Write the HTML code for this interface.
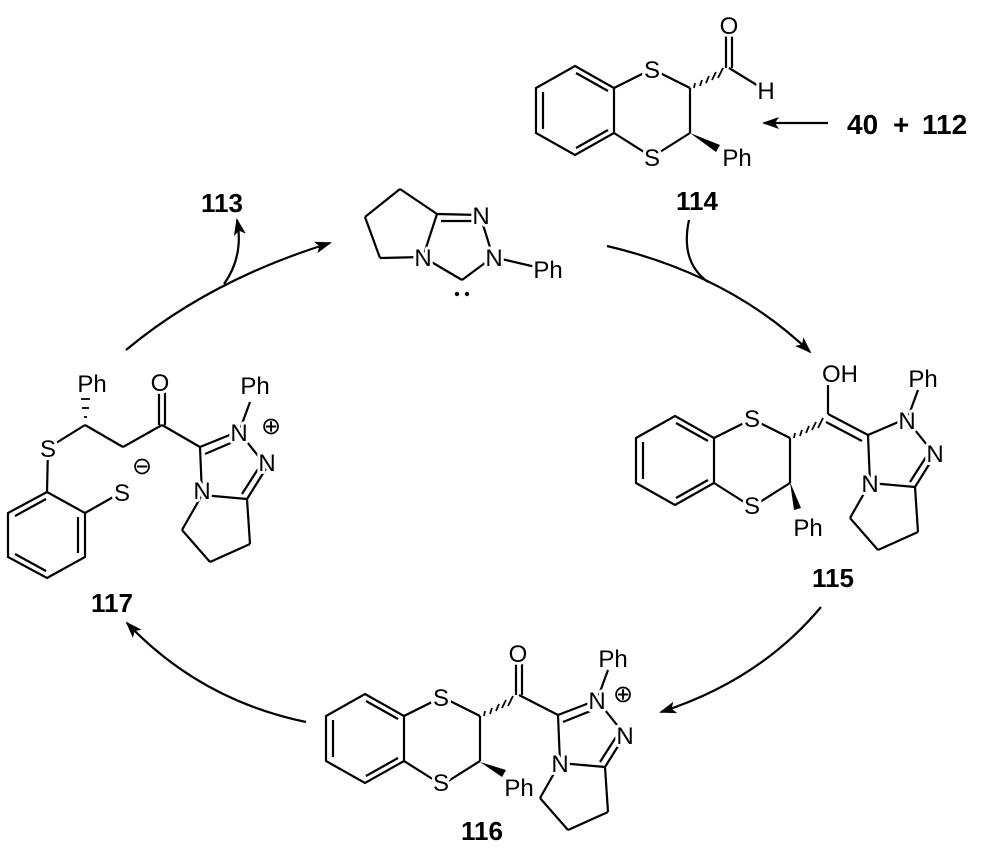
<!DOCTYPE html>
<html><head><meta charset="utf-8"><style>
html,body{margin:0;padding:0;background:#fff}
svg{display:block}
text{font-family:"Liberation Sans",sans-serif;font-size:24px;fill:#000;stroke:#fff;stroke-width:6px;paint-order:stroke;stroke-linejoin:round}
text.b{font-weight:bold;font-size:26px;stroke-width:0}
text.c{font-size:24px;stroke-width:3px}
</style></head><body>
<svg width="1000" height="856" viewBox="0 0 1000 856" xmlns="http://www.w3.org/2000/svg">
<defs>
<marker id="ah" markerWidth="18" markerHeight="12" refX="15" refY="6" orient="auto" markerUnits="userSpaceOnUse">
<path d="M0,0 L17,6 L0,12 L4,6 z" fill="#000"/></marker>
<g id="dt" stroke="#000" stroke-width="2.2" fill="none">
<polygon points="575,66 614,88 614,133 575,155 536,133 536,88"/>
<line x1="576" y1="73" x2="608" y2="91"/>
<line x1="543" y1="92" x2="543" y2="129"/>
<line x1="576" y1="148" x2="608" y2="130"/>
<line x1="614" y1="88" x2="652" y2="69"/>
<line x1="652" y1="69" x2="690" y2="88"/>
<line x1="690" y1="88" x2="690" y2="133"/>
<line x1="690" y1="133" x2="652" y2="157"/>
<line x1="652" y1="157" x2="614" y2="133"/>
<g stroke-width="1.8">
<line x1="695" y1="83" x2="694" y2="88"/>
<line x1="702" y1="80" x2="700" y2="86"/>
<line x1="709" y1="76" x2="706" y2="83"/>
<line x1="716" y1="72" x2="712" y2="80"/>
<line x1="723" y1="68" x2="718" y2="78"/>
</g>
</g>
<g id="tz" stroke="#000" stroke-width="2.2" fill="none">
<line x1="39" y1="-15" x2="67" y2="20"/>
<line x1="67" y1="20" x2="47" y2="52"/>
<line x1="58" y1="22" x2="42" y2="47"/>
<line x1="47" y1="52" x2="2" y2="48"/>
<line x1="2" y1="48" x2="0" y2="0"/>
<line x1="2" y1="48" x2="-18" y2="83"/>
<line x1="-18" y1="83" x2="10" y2="115"/>
<line x1="10" y1="115" x2="50" y2="97"/>
<line x1="50" y1="97" x2="47" y2="52"/>
<line x1="39" y1="-15" x2="50" y2="-45"/>
</g>
</defs>

<!-- 114 -->
<use href="#dt"/>
<g stroke="#000" stroke-width="2.2" fill="none">
<line x1="729" y1="68" x2="765" y2="90"/>
<line x1="726" y1="68" x2="726" y2="32"/>
<line x1="732" y1="68" x2="732" y2="32"/>
</g>
<polygon points="690,133 720,145 716,152" fill="#000"/>
<text x="652" y="78" text-anchor="middle">S</text>
<text x="652" y="166" text-anchor="middle">S</text>
<text x="729" y="34" text-anchor="middle">O</text>
<text x="766" y="99" text-anchor="middle">H</text>
<text x="737" y="166" text-anchor="middle">Ph</text>
<text class="b" x="697" y="210" text-anchor="middle">114</text>
<line x1="828" y1="123" x2="764" y2="123" stroke="#000" stroke-width="2.2" marker-end="url(#ah)"/>
<text class="b" x="847" y="134" style="font-size:28px">40</text>
<text class="b" x="893" y="134" style="font-size:28px">+</text>
<text class="b" x="922" y="134" style="font-size:28px">112</text>

<!-- carbene -->
<g stroke="#000" stroke-width="2.2" fill="none">
<line x1="437" y1="214" x2="480" y2="215"/>
<line x1="441" y1="221" x2="476" y2="221"/>
<line x1="480" y1="215" x2="493" y2="257"/>
<line x1="493" y1="257" x2="462" y2="280"/>
<line x1="462" y1="280" x2="423" y2="257"/>
<line x1="423" y1="257" x2="437" y2="214"/>
<line x1="437" y1="214" x2="400" y2="189"/>
<line x1="400" y1="189" x2="365" y2="217"/>
<line x1="365" y1="217" x2="380" y2="258"/>
<line x1="380" y1="258" x2="423" y2="257"/>
<line x1="493" y1="257" x2="540" y2="268"/>
</g>
<text x="481" y="224" text-anchor="middle">N</text>
<text x="494" y="266" text-anchor="middle">N</text>
<text x="423" y="266" text-anchor="middle">N</text>
<text x="548" y="278" text-anchor="middle">Ph</text>
<circle cx="457" cy="294" r="2.2" fill="#000"/><circle cx="467" cy="294" r="2.2" fill="#000"/>

<!-- 115 -->
<g transform="translate(100,350)"><use href="#dt"/></g>
<polygon points="790,482 794,510 801,508" fill="#000"/>
<g transform="translate(868,435)"><use href="#tz"/></g>
<g stroke="#000" stroke-width="2.2" fill="none">
<line x1="868" y1="435" x2="903" y2="420"/>
<line x1="828" y1="414" x2="868" y2="435"/>
<line x1="826" y1="422" x2="862" y2="441"/>
<line x1="828" y1="414" x2="828" y2="385"/>
</g>
<text x="752" y="427" text-anchor="middle">S</text>
<text x="752" y="514" text-anchor="middle">S</text>
<text x="808" y="536" text-anchor="middle">Ph</text>
<text x="840" y="382" text-anchor="middle">OH</text>
<text x="907" y="429" text-anchor="middle">N</text>
<text x="935" y="462" text-anchor="middle">N</text>
<text x="870" y="492" text-anchor="middle">N</text>
<text x="923" y="387" text-anchor="middle">Ph</text>
<text class="b" x="833" y="587" text-anchor="middle">115</text>

<!-- 116 -->
<g transform="translate(-210,628)"><use href="#dt"/></g>
<polygon points="480,762 506,770 502,777" fill="#000"/>
<g transform="translate(558,715)"><use href="#tz"/></g>
<g stroke="#000" stroke-width="2.2" fill="none">
<line x1="558" y1="715" x2="597" y2="700"/>
<line x1="563" y1="722" x2="593" y2="710"/>
<line x1="519" y1="695" x2="558" y2="715"/>
<line x1="516" y1="695" x2="516" y2="662"/>
<line x1="522" y1="695" x2="522" y2="662"/>
</g>
<text x="441" y="706" text-anchor="middle">S</text>
<text x="441" y="791" text-anchor="middle">S</text>
<text x="519" y="796" text-anchor="middle">Ph</text>
<text x="518" y="662" text-anchor="middle">O</text>
<text x="597" y="709" text-anchor="middle">N</text>
<text x="625" y="744" text-anchor="middle">N</text>
<text x="560" y="772" text-anchor="middle">N</text>
<text x="613" y="667" text-anchor="middle">Ph</text>
<text class="c" x="623" y="702" text-anchor="middle">⊕</text>
<text class="b" x="482" y="840" text-anchor="middle">116</text>

<!-- 117 -->
<g transform="translate(200,447)"><use href="#tz"/></g>
<g stroke="#000" stroke-width="2.2" fill="none">
<line x1="200" y1="447" x2="237" y2="432"/>
<line x1="205" y1="454" x2="233" y2="442"/>
<line x1="162" y1="425" x2="200" y2="447"/>
<line x1="159" y1="425" x2="159" y2="392"/>
<line x1="165" y1="425" x2="165" y2="392"/>
<line x1="162" y1="425" x2="123" y2="447"/>
<line x1="123" y1="447" x2="85" y2="425"/>
<line x1="85" y1="425" x2="48" y2="448"/>
<line x1="48" y1="448" x2="47" y2="492"/>
<polygon points="47,492 85,513 85,557 47,578 8,557 8,513"/>
<line x1="46" y1="499" x2="15" y2="516"/>
<line x1="78" y1="517" x2="78" y2="553"/>
<line x1="46" y1="571" x2="15" y2="554"/>
<line x1="85" y1="513" x2="122" y2="492"/>
<line x1="84" y1="417" x2="87" y2="417" stroke-width="1.8"/>
<line x1="82" y1="408" x2="89" y2="408" stroke-width="1.8"/>
<line x1="81" y1="399" x2="90" y2="399" stroke-width="1.8"/>
</g>
<text x="48" y="457" text-anchor="middle">S</text>
<text x="122" y="501" text-anchor="middle">S</text>
<text class="c" x="142" y="474" text-anchor="middle">⊖</text>
<text x="92" y="392" text-anchor="middle">Ph</text>
<text x="160" y="391" text-anchor="middle">O</text>
<text x="239" y="441" text-anchor="middle">N</text>
<text x="267" y="471" text-anchor="middle">N</text>
<text x="202" y="499" text-anchor="middle">N</text>
<text x="255" y="394" text-anchor="middle">Ph</text>
<text class="c" x="271" y="434" text-anchor="middle">⊕</text>
<text class="b" x="112" y="612" text-anchor="middle">117</text>

<!-- cycle arrows -->
<g stroke="#000" stroke-width="2.2" fill="none">
<path d="M126,350 Q210,280 330,243" marker-end="url(#ah)"/>
<path d="M224,284 Q244,256 237,220" marker-end="url(#ah)"/>
<path d="M607,246 Q730,275 810,352" marker-end="url(#ah)"/>
<path d="M689,220 Q680,262 708,282"/>
<path d="M821,607 Q760,680 661,712" marker-end="url(#ah)"/>
<path d="M306,722 Q200,700 127,623" marker-end="url(#ah)"/>
</g>
<text class="b" x="222" y="212" text-anchor="middle">113</text>
</svg>
</body></html>
